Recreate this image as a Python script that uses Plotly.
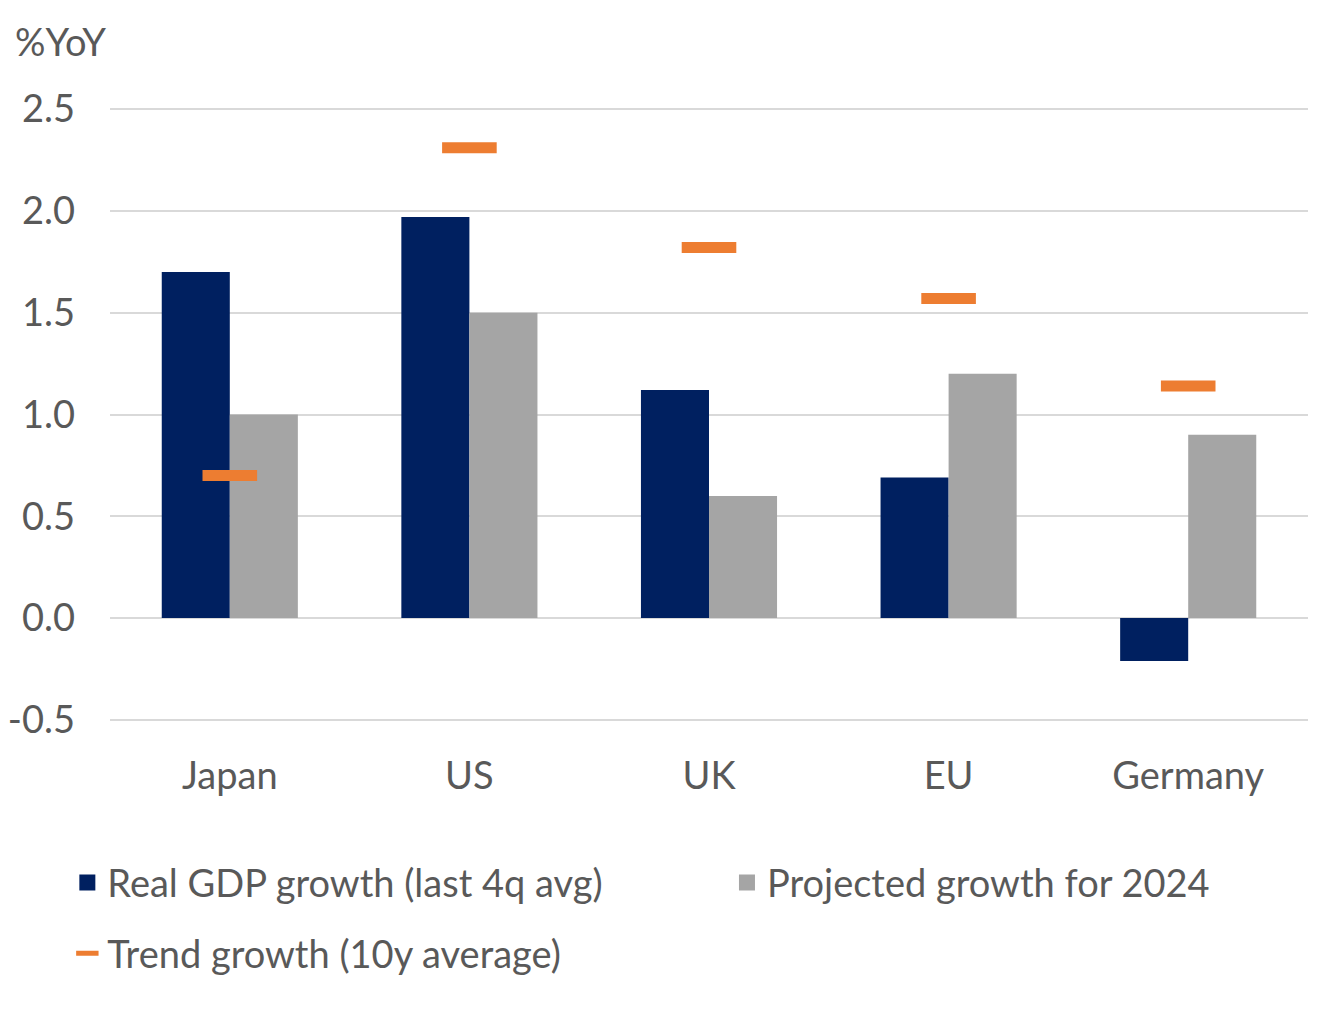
import plotly.graph_objects as go

categories = ["Japan", "US", "UK", "EU", "Germany"]
real_gdp = [1.70, 1.97, 1.12, 0.69, -0.21]
projected_2024 = [1.0, 1.5, 0.6, 1.2, 0.9]
trend_growth = [0.70, 2.31, 1.82, 1.57, 1.14]
y_ticks = [-0.5, 0.0, 0.5, 1.0, 1.5, 2.0, 2.5]
y_tick_labels = ["-0.5", "0.0", "0.5", "1.0", "1.5", "2.0", "2.5"]

FONT = "Lato"
TXT = "#595959"
FS = 38
NAVY = "#002060"
GREY = "#A5A5A5"
ORANGE = "#ED7D31"

fig = go.Figure()
fig.add_trace(go.Bar(x=categories, y=real_gdp, name="Real GDP growth (last 4q avg)",
                     marker=dict(color=NAVY, line=dict(width=0)), showlegend=False))
fig.add_trace(go.Bar(x=categories, y=projected_2024, name="Projected growth for 2024",
                     marker=dict(color=GREY, line=dict(width=0)), showlegend=False))
fig.add_trace(go.Scatter(x=categories, y=trend_growth, name="Trend growth (10y average)",
                         mode="markers",
                         marker=dict(symbol="line-ew", size=39, color=ORANGE,
                                     line=dict(color=ORANGE, width=11)),
                         legend="legend3"))
# legend entries for the bar series (square swatches)
fig.add_trace(go.Scatter(x=[None], y=[None], mode="markers", name="Real GDP growth (last 4q avg)",
                         marker=dict(symbol="square", size=20, color=NAVY), legend="legend"))
fig.add_trace(go.Scatter(x=[None], y=[None], mode="markers", name="Projected growth for 2024",
                         marker=dict(symbol="square", size=20, color=GREY), legend="legend2"))

leg_common = dict(orientation="h", xanchor="left", yanchor="middle", itemsizing="trace",
                  font=dict(size=FS, color=TXT, family=FONT), bgcolor="rgba(0,0,0,0)")

fig.update_layout(
    width=1305, height=1007,
    margin=dict(l=102, r=5, t=97, b=291, autoexpand=False),
    paper_bgcolor="white", plot_bgcolor="white",
    font=dict(family=FONT, size=FS, color=TXT),
    barmode="group", bargap=0.432, bargroupgap=0,
    showlegend=True,
    legend=dict(x=-0.0356, y=-0.2565, **leg_common),
    legend2=dict(x=0.515, y=-0.2565, **leg_common),
    legend3=dict(x=-0.0356, y=-0.371, **leg_common),
    annotations=[dict(text="%YoY", xref="paper", yref="paper", x=-0.081, y=1.104,
                      xanchor="left", yanchor="middle", showarrow=False,
                      font=dict(size=FS, color=TXT, family=FONT))],
)
fig.update_xaxes(showgrid=False, showline=False, ticks="", ticklabelstandoff=26,
                 tickfont=dict(size=FS, color=TXT))
fig.update_yaxes(range=[-0.52, 2.52], tickvals=y_ticks, ticktext=y_tick_labels,
                 showgrid=True, gridcolor="#D9D9D9", gridwidth=2,
                 zeroline=True, zerolinecolor="#D9D9D9", zerolinewidth=2,
                 showline=False, ticks="", ticklabelstandoff=34,
                 tickfont=dict(size=FS, color=TXT))

fig.write_html("out.html")
